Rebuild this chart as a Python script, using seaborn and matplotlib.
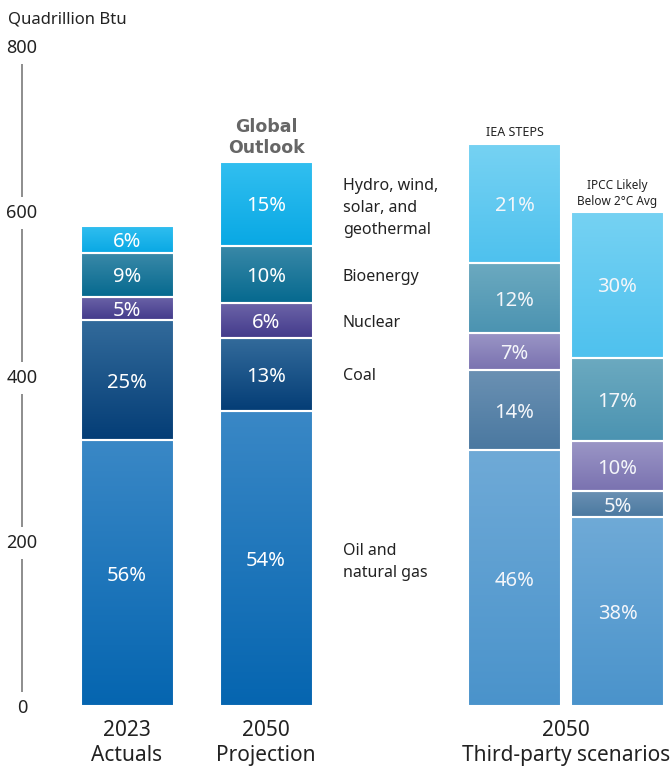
import numpy as np
import pandas as pd
import matplotlib
matplotlib.use("Agg")
import matplotlib.pyplot as plt
import seaborn as sns
from matplotlib.colors import LinearSegmentedColormap, to_rgba

# ---------------- data ----------------
scenarios = ["2023 Actuals", "2050 Projection", "IEA STEPS", "IPCC Likely Below 2°C Avg"]
sources = ["Oil and\nnatural gas", "Coal", "Nuclear", "Bioenergy",
           "Hydro, wind,\nsolar, and\ngeothermal"]
oil_gas = [322, 358, 310, 229]
coal = [146, 88, 97, 31.5]
nuclear = [28, 42, 45, 60.5]
bioenergy = [53, 70, 85, 101]
renewables = [33, 101, 144, 177]
pct_oil_gas = ["56%", "54%", "46%", "38%"]
pct_coal = ["25%", "13%", "14%", "5%"]
pct_nuclear = ["5%", "6%", "7%", "10%"]
pct_bioenergy = ["9%", "10%", "12%", "17%"]
pct_renewables = ["6%", "15%", "21%", "30%"]
y_ticks = [0, 200, 400, 600, 800]
unit_label = "Quadrillion Btu"
group_labels = ["2023\nActuals", "2050\nProjection", "2050\nThird-party scenarios"]
bar_titles = ["", "Global\nOutlook", "IEA STEPS", "IPCC Likely\nBelow 2°C Avg"]

layers = [oil_gas, coal, nuclear, bioenergy, renewables]
layer_pcts = [pct_oil_gas, pct_coal, pct_nuclear, pct_bioenergy, pct_renewables]

# ---------------- styling / layout ----------------
bar_x = [127, 266, 514.5, 617.5]
bar_w_px = 93
dark = {  # (top, bottom)
    0: ("#3a88c6", "#0565b0"),
    1: ("#336b9b", "#043d76"),
    2: ("#6c64a8", "#433a8b"),
    3: ("#3a89a8", "#05698f"),
    4: ("#32bff0", "#08a8e4"),
}
light = {
    0: ("#6faad7", "#4a93cb"),
    1: ("#6b91b3", "#4a78a0"),
    2: ("#9b96c6", "#7a72b0"),
    3: ("#6caac0", "#4b93b1"),
    4: ("#76d2f3", "#4ec1ee"),
}
bar_is_light = [False, False, True, True]

sns.set_style("white")
plt.rcParams["font.family"] = ["Noto Sans", "DejaVu Sans"]
TXT = "#222222"

fig = plt.figure(figsize=(6.71, 7.66), dpi=100)
ax = fig.add_axes([0, 0, 1, 1])

px_per_unit = 0.825
y_bottom = -60 / px_per_unit
y_top = 706 / px_per_unit

width_factor = bar_w_px / np.min(np.diff(bar_x))
bottoms = np.zeros(len(bar_x))
for li, vals in enumerate(layers):
    df = pd.DataFrame({"x": bar_x, "value": vals})
    n_before = len(ax.patches)
    sns.barplot(data=df, x="x", y="value", native_scale=True, width=width_factor,
                bottom=bottoms.copy(), color=dark[li][1], edgecolor="white",
                linewidth=1.5, errorbar=None, ax=ax)
    new_patches = ax.patches[n_before:]
    for bi, p in enumerate(new_patches):
        top_c, bot_c = (light if bar_is_light[bi] else dark)[li]
        cmap = LinearSegmentedColormap.from_list("g", [bot_c, top_c])
        x0, y0 = p.get_xy()
        w, h = p.get_width(), p.get_height()
        grad = np.linspace(0, 1, 256).reshape(-1, 1)
        im = ax.imshow(grad, extent=[x0, x0 + w, y0, y0 + h], origin="lower",
                       cmap=cmap, aspect="auto", zorder=1, interpolation="bilinear")
        im.set_clip_path(p)
        p.set_facecolor(to_rgba(bot_c, 0.0))
        p.set_zorder(2)
        ax.text(x0 + w / 2, y0 + h / 2, layer_pcts[li][bi], ha="center",
                va="center_baseline",
                color="white" if not bar_is_light[bi] else "#f4f6fa",
                fontsize=14.5, zorder=4)
    # source label to the right of the 2050 projection bar
    multi = "\n" in sources[li]
    ax.text(343, bottoms[1] + vals[1] / 2 - (5 if multi else 0), sources[li],
            ha="left", va="center" if multi else "center_baseline",
            fontsize=11.5, color=TXT, linespacing=1.5)
    bottoms = bottoms + np.array(vals, dtype=float)

# bar titles above bars
ax.text(bar_x[1], bottoms[1] + 7, bar_titles[1], ha="center", va="bottom",
        fontsize=12.5, fontweight="bold", color="#666666", linespacing=1.2,
        family=["DejaVu Sans"])
ax.text(bar_x[2], bottoms[2] + 6, bar_titles[2], ha="center", va="bottom",
        fontsize=9, color=TXT)
ax.text(bar_x[3], bottoms[3] + 5, bar_titles[3], ha="center", va="bottom",
        fontsize=8.5, color=TXT, linespacing=1.3)

# group labels under bars
group_x = [bar_x[0], bar_x[1], (bar_x[2] + bar_x[3]) / 2]
for gx, gl in zip(group_x, group_labels):
    ax.text(gx, -45, gl, ha="center", va="center", fontsize=15, color=TXT,
            linespacing=1.22)

# axis
ax.set_xlim(0, 671)
ax.set_ylim(y_bottom, y_top)
ax.set_xticks([])
ax.set_xlabel("")
ax.set_ylabel("")
for s in ["top", "right", "bottom"]:
    ax.spines[s].set_visible(False)
ax.spines["left"].set_position(("data", 22))
ax.spines["left"].set_bounds(0, 800)
ax.spines["left"].set_color("#7a7a7a")
ax.spines["left"].set_linewidth(1.2)
ax.spines["left"].set_zorder(0.5)
ax.set_yticks(y_ticks)
ax.set_yticklabels([str(t) for t in y_ticks])
ax.tick_params(axis="y", length=0, pad=0, labelsize=13, labelcolor=TXT)
for lbl in ax.get_yticklabels():
    lbl.set_horizontalalignment("center")
    lbl.set_verticalalignment("center_baseline")
    lbl.set_bbox(dict(facecolor="white", edgecolor="none", pad=5))

ax.text(8, 832, unit_label, ha="left", va="center", fontsize=12, color=TXT)

fig.savefig("out.png", dpi=100)
